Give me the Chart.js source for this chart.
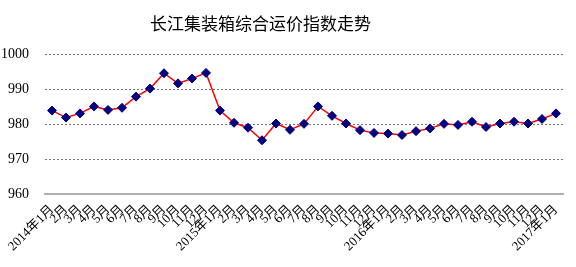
<!DOCTYPE html>
<html>
<head>
<meta charset="utf-8">
<script src="https://cdn.jsdelivr.net/npm/chart.js@4/dist/chart.umd.min.js"></script>
<style>
  html,body{margin:0;padding:0;background:#fff;}
  #wrap{width:576px;height:267px;position:relative;}
</style>
</head>
<body>
<div id="wrap"><canvas id="c"></canvas></div>
<script>
const title = '长江集装箱综合运价指数走势';

const labels = [
  '2014年1月','2月','3月','4月','5月','6月','7月','8月','9月','10月','11月','12月',
  '2015年1月','2月','3月','4月','5月','6月','7月','8月','9月','10月','11月','12月',
  '2016年1月','2月','3月','4月','5月','6月','7月','8月','9月','10月','11月','12月',
  '2017年1月'
];

const indexValues = [
  983.9, 981.9, 983.1, 985.1, 984.1, 984.7, 987.9, 990.2, 994.6, 991.7, 993.1, 994.7,
  983.9, 980.4, 979.0, 975.4, 980.2, 978.4, 980.1, 985.1, 982.4, 980.2, 978.3, 977.5,
  977.3, 976.9, 978.0, 978.8, 980.1, 979.8, 980.7, 979.2, 980.2, 980.7, 980.2, 981.5,
  983.1
];

const yTicks = {min: 960, max: 1000, step: 10};

const serif = "'Liberation Serif', 'Noto Sans CJK SC', serif";

// title sits a little left of the plot centre in the original
const titleShift = {
  id: 'titleShift',
  beforeDraw(chart) {
    const t = chart.titleBlock;
    if (t && !t._shifted) { t.left -= 21; t.right -= 21; t._shifted = true; }
  }
};

new Chart(document.getElementById('c'), {
  type: 'line',
  data: {
    labels,
    datasets: [{
      data: indexValues,
      borderColor: '#ff0000',
      borderWidth: 1.5,
      tension: 0,
      pointStyle: 'rectRot',
      pointRadius: 4.5,
      pointBackgroundColor: '#000080',
      pointBorderColor: '#000080',
      pointBorderWidth: 1
    }]
  },
  options: {
    responsive: true, maintainAspectRatio: false, animation: false,
    layout: {padding: {left: 0, right: 13, top: 0, bottom: 0}},
    plugins: {
      legend: {display: false},
      tooltip: {enabled: false},
      title: {
        display: true, text: title, color: '#000',
        font: {family: "'Noto Sans CJK SC'", size: 17, weight: 'normal'},
        padding: {top: 13, bottom: 21}
      }
    },
    scales: {
      x: {
        offset: true,
        grid: {display: false, drawTicks: false},
        border: {color: '#b0b0b0', width: 2},
        ticks: {
          autoSkip: false, minRotation: 45, maxRotation: 45, padding: 8,
          color: '#000', font: {family: serif, size: 13}
        },
        afterFit: s => { s.height = 73; }
      },
      y: {
        min: yTicks.min, max: yTicks.max,
        grid: {color: '#777', lineWidth: 1, drawTicks: false},
        border: {display: false, dash: [2, 2]},
        ticks: {
          stepSize: yTicks.step, padding: 16, color: '#000',
          font: {family: serif, size: 14},
          callback: v => String(v)
        },
        afterFit: s => { s.width = 45; }
      }
    }
  },
  plugins: [titleShift]
});
</script>
</body>
</html>
